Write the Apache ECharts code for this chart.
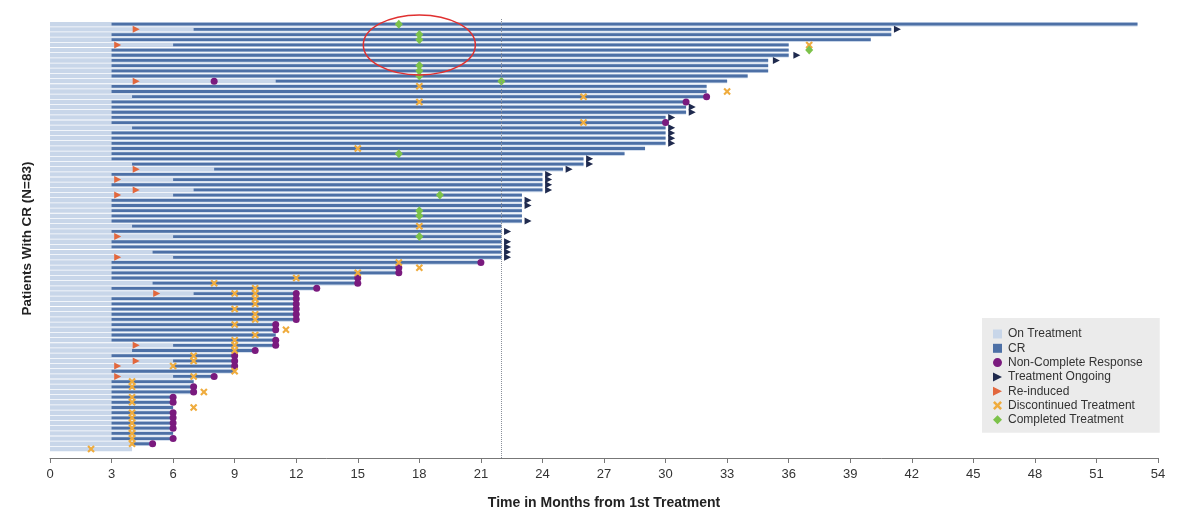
<!DOCTYPE html>
<html>
<head>
<meta charset="utf-8">
<title>Swimmer plot</title>
<script src="https://cdn.jsdelivr.net/npm/echarts@6/dist/echarts.min.js"></script>
<style>
  html, body { margin: 0; padding: 0; background: #fff; }
  #main { width: 1200px; height: 530px; }
</style>
</head>
<body>
<div id="main"></div>
<script>
// x axis ticks (months)
const monthTicks = [0, 3, 6, 9, 12, 15, 18, 21, 24, 27, 30, 33, 36, 39, 42, 45, 48, 51, 54]

// one entry per patient, row 1 = top
const crStart = [
  3, 7, 3, 3, 6, 3, 3, 3, 3, 3,
  3, 11, 3, 3, 4, 3, 3, 3, 3, 3,
  4, 3, 3, 3, 3, 3, 3, 4, 8, 3,
  6, 3, 7, 6, 3, 3, 3, 3, 3, 4,
  3, 6, 3, 3, 5, 6, 3, 3, 3, 3,
  5, 3, 7, 3, 3, 3, 3, 3, 3, 3,
  3, 3, 6, 4, 3, 6, 6, 3, 6, 3,
  3, 3, 3, 3, 3, 3, 3, 3, 3, 3,
  3, 4, null
]
const endMonth = [
  53, 41, 41, 40, 36, 36, 36, 35, 35, 35,
  34, 33, 32, 32, 32, 31, 31, 31, 30, 30,
  30, 30, 30, 30, 29, 28, 26, 26, 25, 24,
  24, 24, 24, 23, 23, 23, 23, 23, 23, 22,
  22, 22, 22, 22, 22, 22, 21, 17, 17, 15,
  15, 13, 12, 12, 12, 12, 12, 12, 11, 11,
  11, 11, 11, 10, 9, 9, 9, 9, 8, 7,
  7, 7, 6, 6, 6, 6, 6, 6, 6, 6,
  6, 5, 4
]

// markers: [row, month]
const nonCR = [
  [12, 8], [15, 32], [16, 31], [20, 30], [47, 21], [48, 17], [49, 17], [50, 15], [51, 15],
  [52, 13], [53, 12], [54, 12], [55, 12], [56, 12], [57, 12], [58, 12], [59, 11], [60, 11],
  [62, 11], [63, 11], [64, 10], [65, 9], [66, 9], [67, 9], [69, 8], [71, 7], [72, 7],
  [73, 6], [74, 6], [76, 6], [77, 6], [78, 6], [79, 6], [81, 6], [82, 5]
]
const ongoing = [
  [2, 41.3], [7, 36.4], [8, 35.4], [17, 31.3], [18, 31.3], [19, 30.3], [21, 30.3], [22, 30.3],
  [23, 30.3], [24, 30.3], [27, 26.3], [28, 26.3], [29, 25.3], [30, 24.3], [31, 24.3], [32, 24.3],
  [33, 24.3], [35, 23.3], [36, 23.3], [39, 23.3], [41, 22.3], [43, 22.3], [44, 22.3], [45, 22.3],
  [46, 22.3]
]
const reinduced = [
  [2, 4.2], [5, 3.3], [12, 4.2], [29, 4.2], [31, 3.3], [33, 4.2], [34, 3.3], [42, 3.3],
  [46, 3.3], [53, 5.2], [63, 4.2], [66, 4.2], [67, 3.3], [69, 3.3]
]
const discontinued = [
  [5, 37], [13, 18], [14, 33], [15, 26], [16, 18], [20, 26], [25, 15], [40, 18], [47, 17],
  [48, 18], [49, 15], [50, 12], [51, 8], [52, 10], [53, 9], [53, 10], [54, 10], [55, 10],
  [56, 9], [57, 10], [58, 10], [59, 9], [60, 11.5], [61, 10], [62, 9], [63, 9], [64, 9],
  [65, 7], [66, 7], [67, 6], [68, 9], [69, 7], [70, 4], [71, 4], [72, 7.5], [73, 4], [74, 4],
  [75, 7], [76, 4], [77, 4], [78, 4], [79, 4], [80, 4], [81, 4], [82, 4], [83, 2]
]
const completed = [
  [1, 17], [3, 18], [4, 18], [6, 37], [9, 18], [10, 18], [11, 18], [12, 22], [26, 17],
  [34, 19], [37, 18], [38, 18], [42, 18]
]

const triRight = 'path://M0,0 L10,5 L0,10 Z'
const crossPath = 'path://M2,0 L5,3 L8,0 L10,2 L7,5 L10,8 L8,10 L5,7 L2,10 L0,8 L3,5 L0,2 Z'

const treatBars = endMonth.map((e, i) => [i + 1, 0, e])
const crBars = []
crStart.forEach((s, i) => { if (s !== null) crBars.push([i + 1, s, endMonth[i]]) })

function barRenderer (h, color) {
  return function (params, api) {
    const a = api.coord([api.value(1), api.value(0)])
    const b = api.coord([api.value(2), api.value(0)])
    return {
      type: 'rect',
      shape: { x: a[0], y: a[1] - h / 2, width: b[0] - a[0], height: h },
      style: { fill: color }
    }
  }
}

// scatter wants [x, y]
const swap = arr => arr.map(d => [d[1], d[0]])

const myChart = echarts.init(document.getElementById('main'))
const option = {
  animation: false,
  textStyle: { fontFamily: 'Liberation Sans, Arial, sans-serif' },
  grid: { left: 50, right: 42, top: 19, bottom: 72 },
  legend: {
    orient: 'vertical',
    left: 982,
    top: 318,
    backgroundColor: '#ebebeb',
    padding: [10, 17, 7, 11],
    itemWidth: 9,
    itemHeight: 9,
    itemGap: 2.3,
    selectedMode: false,
    textStyle: { fontSize: 12, lineHeight: 12, color: '#333', padding: [0, 0, 0, 1] },
    data: [
      { name: 'On Treatment', icon: 'rect' },
      { name: 'CR', icon: 'rect' },
      { name: 'Non-Complete Response', icon: 'circle' },
      { name: 'Treatment Ongoing', icon: triRight },
      { name: 'Re-induced', icon: triRight },
      { name: 'Discontinued Treatment', icon: crossPath },
      { name: 'Completed Treatment', icon: 'diamond' }
    ]
  },
  xAxis: {
    type: 'value',
    min: 0,
    max: 54,
    interval: 3,
    name: 'Time in Months from 1st Treatment',
    nameLocation: 'middle',
    nameGap: 38,
    nameTextStyle: { fontSize: 14, fontWeight: 'bold', color: '#222' },
    axisLine: { onZero: false, lineStyle: { color: '#777' } },
    axisTick: { show: true, length: 5, lineStyle: { color: '#777' } },
    axisLabel: { fontSize: 13, color: '#333', margin: 10, customValues: monthTicks },
    splitLine: { show: false }
  },
  yAxis: {
    type: 'value',
    inverse: true,
    min: 0,
    max: 84.75,
    name: 'Patients With CR (N=83)',
    nameLocation: 'middle',
    nameRotate: 90,
    nameGap: 16,
    nameTextStyle: { fontSize: 13.5, fontWeight: 'bold', color: '#222' },
    axisLine: { show: false },
    axisTick: { show: false },
    axisLabel: { show: false },
    splitLine: { show: false }
  },
  series: [
    {
      name: 'On Treatment',
      type: 'custom',
      renderItem: barRenderer(4.4, '#c8d6e9'),
      itemStyle: { color: '#c8d6e9' },
      encode: { x: [1, 2], y: 0 },
      data: treatBars,
      markLine: {
        silent: true,
        symbol: 'none',
        label: { show: false },
        lineStyle: { color: '#8a8f99', type: 'dotted', width: 1 },
        data: [{ xAxis: 22 }]
      }
    },
    {
      name: 'CR',
      type: 'custom',
      renderItem: barRenderer(2.8, '#4d70a6'),
      itemStyle: { color: '#4d70a6' },
      encode: { x: [1, 2], y: 0 },
      data: crBars
    },
    {
      name: 'Non-Complete Response',
      type: 'scatter',
      symbol: 'circle',
      symbolSize: 7,
      itemStyle: { color: '#7a1a7e', opacity: 1 },
      data: swap(nonCR)
    },
    {
      name: 'Treatment Ongoing',
      type: 'scatter',
      symbol: triRight,
      symbolSize: [7, 7],
      itemStyle: { color: '#1f2a4e', opacity: 1 },
      data: swap(ongoing)
    },
    {
      name: 'Re-induced',
      type: 'scatter',
      symbol: triRight,
      symbolSize: [7, 7],
      itemStyle: { color: '#e2673d', opacity: 1 },
      data: swap(reinduced)
    },
    {
      name: 'Discontinued Treatment',
      type: 'scatter',
      symbol: crossPath,
      symbolSize: 7.5,
      itemStyle: { color: '#efac3e', opacity: 1 },
      data: swap(discontinued)
    },
    {
      name: 'Completed Treatment',
      type: 'scatter',
      symbol: 'diamond',
      symbolSize: [8, 9],
      itemStyle: { color: '#7cc24a', opacity: 1 },
      data: swap(completed)
    }
  ]
}
myChart.setOption(option)

// red annotation ellipse around the completed-treatment cluster
const c = myChart.convertToPixel({ gridIndex: 0 }, [18, 5])
myChart.setOption({
  graphic: [{
    type: 'ellipse',
    z: 100,
    shape: { cx: c[0], cy: c[1], rx: 56, ry: 30 },
    style: { fill: 'none', stroke: '#e03030', lineWidth: 1.5 },
    silent: true
  }]
})
</script>
</body>
</html>
